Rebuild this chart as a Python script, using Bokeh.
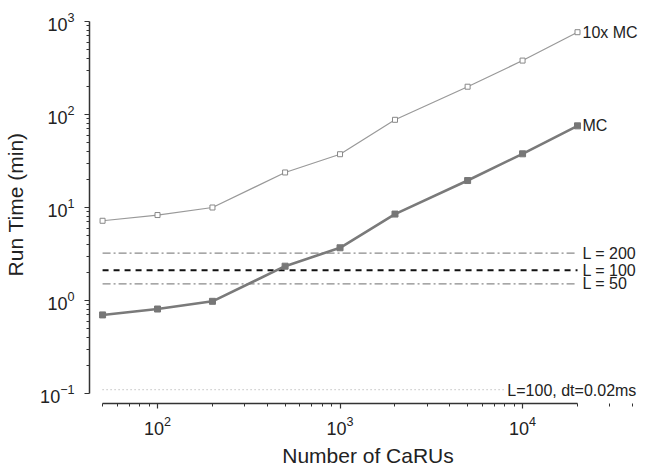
from bokeh.plotting import figure
from bokeh.models import ColumnDataSource, Range1d, FixedTicker, LogTickFormatter
from bokeh.core.properties import value
from bokeh.embed import file_html
from bokeh.resources import INLINE

# ---- data ----
carus = [50, 100, 200, 500, 1000, 2000, 5000, 10000, 20000]
mc_time = [0.70, 0.81, 0.98, 2.34, 3.69, 8.5, 19.5, 37.8, 75.5]
mc10_time = [7.2, 8.3, 10.0, 23.8, 37.4, 87.7, 199, 380, 767]
series_labels = ["10x MC", "MC"]

ref_labels = ["L = 200", "L = 100", "L = 50"]
ref_levels = [3.23, 2.12, 1.51]
ref_x = [50, 20000]

dt_label = "L=100, dt=0.02ms"
dt_level = 0.11
dt_x = [50, 8050]

FONT = "Liberation Sans"

p = figure(width=646, height=472, x_axis_type="log", y_axis_type="log",
           x_range=Range1d(42.4, 47750), y_range=Range1d(0.0781, 1486),
           output_backend="svg", toolbar_location=None,
           min_border_left=89, min_border_right=0, min_border_top=5,
           min_border_bottom=69)
p.xgrid.visible = False
p.ygrid.visible = False
p.outline_line_color = None
p.background_fill_color = "white"
p.border_fill_color = "white"

minor_x = [m * 10 ** e for e in range(1, 5) for m in range(2, 10)]
minor_y = [m * 10 ** e for e in range(-1, 3) for m in range(2, 10)]
p.xaxis.ticker = FixedTicker(ticks=[100, 1000, 10000], minor_ticks=minor_x)
p.yaxis.ticker = FixedTicker(ticks=[0.1, 1, 10, 100, 1000], minor_ticks=minor_y)
p.xaxis.formatter = LogTickFormatter()
p.yaxis.formatter = LogTickFormatter()
p.xaxis.bounds = (50, 20000)
p.yaxis.bounds = (0.1, 1000)

for ax in (p.xaxis, p.yaxis):
    ax.axis_line_color = "#333333"
    ax.axis_line_width = 1.5
    ax.major_tick_line_color = "#333333"
    ax.minor_tick_line_color = "#333333"
    ax.major_tick_line_width = 1.2
    ax.minor_tick_line_width = 1
    ax.major_tick_in = 0
    ax.major_tick_out = 5
    ax.minor_tick_in = 0
    ax.minor_tick_out = 3
    ax.major_label_text_font = FONT
    ax.major_label_text_font_size = "18px"
    ax.major_label_text_color = "#222222"
    ax.axis_label_text_font = FONT
    ax.axis_label_text_font_size = "21px"
    ax.axis_label_text_font_style = "normal"
    ax.axis_label_text_color = "#222222"

p.xaxis.axis_label = "Number of CaRUs"
p.yaxis.axis_label = "Run Time (min)"
p.xaxis.major_label_standoff = 7
p.yaxis.major_label_standoff = 10
p.xaxis.axis_label_standoff = 6
p.yaxis.axis_label_standoff = 10

# reference lines
ref_styles = [("#8a8a8a", "8 3 2 3", 1.4), ("#111111", "6 5", 2), ("#8a8a8a", "8 3 2 3", 1.4)]
for lvl, (col, dash, w) in zip(ref_levels, ref_styles):
    p.line(ref_x, [lvl, lvl], line_color=col, line_dash=dash, line_width=w)
p.line(dt_x, [dt_level, dt_level], line_color="#b5b5b5", line_dash="1 3", line_width=1.2)

# series
p.line(carus, mc10_time, line_color="#999999", line_width=1.2)
p.scatter(carus, mc10_time, marker="square", size=5, fill_color="white",
          line_color="#888888", line_width=1)
p.line(carus, mc_time, line_color="#7a7a7a", line_width=2.6)
p.scatter(carus, mc_time, marker="square", size=6, fill_color="#777777",
          line_color="#777777")

# labels
lab_src = ColumnDataSource(dict(x=[carus[-1], carus[-1]], y=[mc10_time[-1], mc_time[-1]],
                                t=series_labels))
p.text(x="x", y="y", text="t", source=lab_src, x_offset=5, text_baseline="middle",
       text_align="left", text_font=value(FONT), text_font_size="16px", text_color="#222222")
ref_src = ColumnDataSource(dict(x=[ref_x[1]] * 3, y=ref_levels, t=ref_labels))
p.text(x="x", y="y", text="t", source=ref_src, x_offset=5, text_baseline="middle",
       text_align="left", text_font=value(FONT), text_font_size="16px", text_color="#222222")
p.text(x=[dt_x[1]], y=[dt_level], text=[dt_label], x_offset=2, y_offset=1,
       text_baseline="middle", text_align="left", text_font=value(FONT),
       text_font_size="16px", text_color="#222222")

open("out.html", "w").write(file_html(p, INLINE))
